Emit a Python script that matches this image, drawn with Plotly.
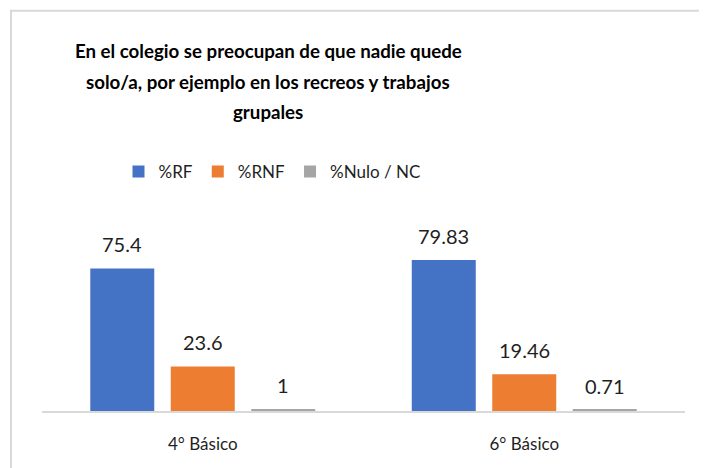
import plotly.graph_objects as go

categories = ["4° Básico", "6° Básico"]
series_names = ["%RF", "%RNF", "%Nulo / NC"]
rf = [75.4, 79.83]
rnf = [23.6, 19.46]
nulo = [1, 0.71]
colors = ["#4472C4", "#ED7D31", "#A5A5A5"]

title_lines = [
    "En el colegio se preocupan de que nadie quede",
    "solo/a, por ejemplo en los recreos y trabajos",
    "grupales",
]

FONT = "Lato, Open Sans, sans-serif"
TXT = "#1F1F1F"
OFF = 8  # page body margin
W, H = 707 - OFF, 468 - OFF
ml, mr = 42 - OFF, 707 - 685
base_y = 411 - OFF
ph = 189.3
mt = base_y - ph
mb = H - base_y
pw = W - ml - mr
cat_w = pw / len(categories)
bargap = 0.249
slot = cat_w * (1 - bargap) / 3

fig = go.Figure()
for name, vals, col in zip(series_names, [rf, rnf, nulo], colors):
    fig.add_trace(go.Bar(
        x=categories, y=vals, name=name, marker_color=col, marker_line_width=0,
    ))

annotations = []
for i, vals in enumerate([rf, rnf, nulo]):
    for c, v in zip(categories, vals):
        annotations.append(dict(
            x=c, y=v, xref="x", yref="y", text=f"{v:g}", showarrow=False,
            xshift=(i - 1) * slot, yshift=10, yanchor="bottom",
            font=dict(size=20, color=TXT, family=FONT),
        ))

for line, yc in zip(title_lines, [50, 81, 112]):
    annotations.append(dict(
        x=(268 - OFF - ml) / pw, y=(base_y - (yc - OFF)) / ph, xref="paper", yref="paper",
        text="<b>" + line + "</b>", showarrow=False, xanchor="center", yanchor="middle",
        font=dict(size=18.7, color="#000000", family=FONT),
    ))

fig.update_layout(
    width=W, height=H,
    margin=dict(l=ml, r=mr, t=mt, b=mb),
    barmode="group", bargap=bargap, bargroupgap=0.205,
    paper_bgcolor="white", plot_bgcolor="white",
    font=dict(family=FONT, color=TXT, size=17),
    legend=dict(orientation="h", x=(272 - OFF) / W, xanchor="center", xref="container",
                yref="container", y=1 - (172 - OFF) / H, yanchor="middle",
                font=dict(size=17, color=TXT), itemwidth=30),
    showlegend=True,
    xaxis=dict(showline=True, linecolor="#D9D9D9", linewidth=1.5, ticks="",
               ticklabelstandoff=17,
               tickfont=dict(size=17, color=TXT), showgrid=False),
    yaxis=dict(range=[0, 100], visible=False, showgrid=False),
    annotations=annotations,
    shapes=[dict(type="rect", xref="paper", yref="paper",
                 x0=(11 - OFF - ml) / pw, x1=(W + 20 - ml) / pw,
                 y0=-1, y1=(base_y - (10 - OFF)) / ph,
                 line=dict(color="#D9D9D9", width=2))],
)

fig.write_html("out.html")
